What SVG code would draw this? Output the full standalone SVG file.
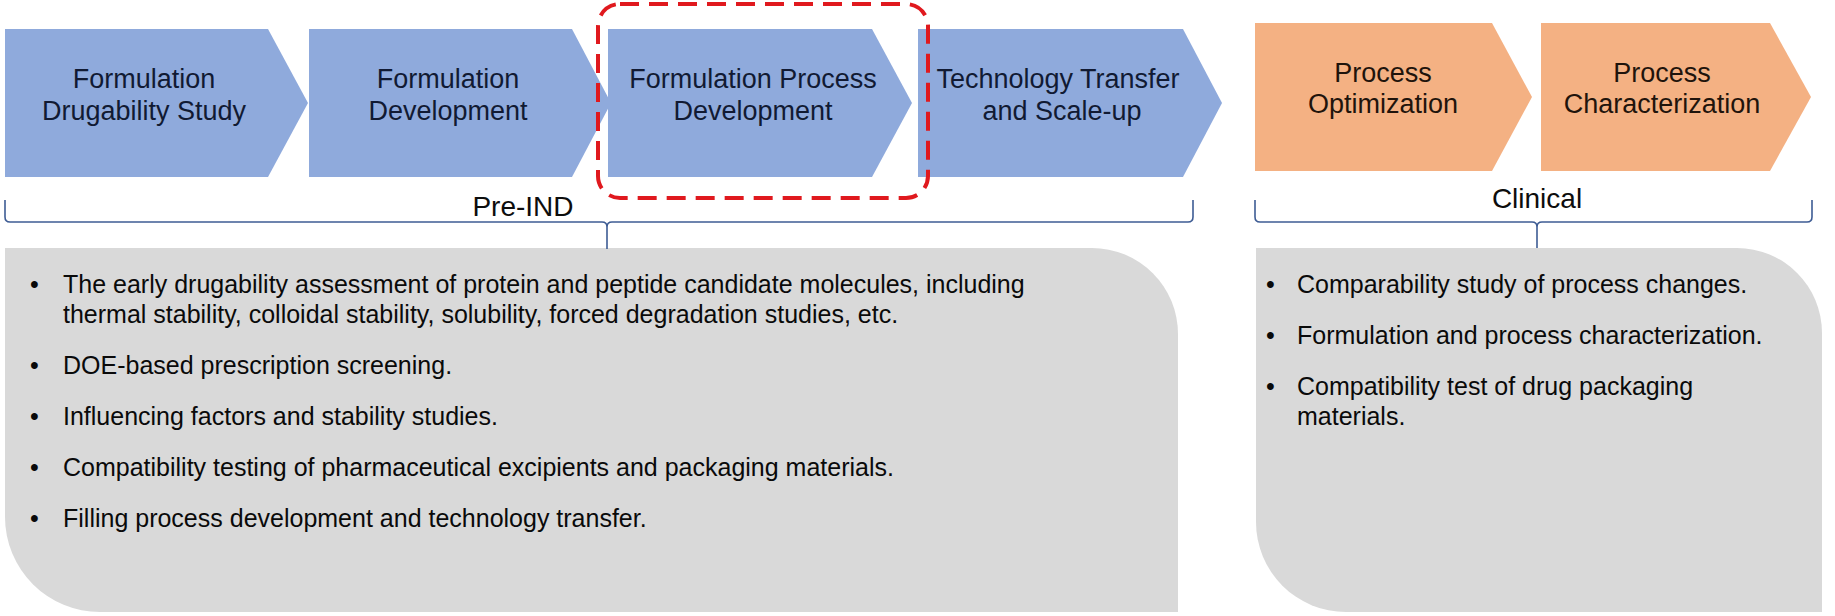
<svg xmlns="http://www.w3.org/2000/svg" width="1835" height="616" viewBox="0 0 1835 616">
  <style>
    .blue { fill: #8FAADC; }
    .orange { fill: #F4B183; }
    .panel { fill: #D9D9D9; }
    .lbl { font-family: "Liberation Sans", Arial, sans-serif; font-size: 27px; text-anchor: middle; }
    .lblb { fill: #111a33; }
    .lblo { fill: #1f140c; }
    .phase { font-family: "Liberation Sans", Arial, sans-serif; font-size: 28px; text-anchor: middle; fill: #0d0d0d; }
    .bul { font-family: "Liberation Sans", Arial, sans-serif; font-size: 25px; fill: #0a0a0a; }
    .brace { fill: none; stroke: #3E5C94; stroke-width: 1.6; }
    .hl { fill: none; stroke: #E0191E; stroke-width: 4; stroke-dasharray: 19 10; }
  </style>
  <rect width="1835" height="616" fill="#FFFFFF"/>

  <g id="panel-preind">
    <path class="panel" d="M5,248 H1092 A86,86 0 0 1 1178,334 V612 H100 A95,95 0 0 1 5,517 Z"/>
    <text class="bul" x="30" y="293">•</text>
    <text class="bul" x="63" y="293">The early drugability assessment of protein and peptide candidate molecules, including</text>
    <text class="bul" x="63" y="323">thermal stability, colloidal stability, solubility, forced degradation studies, etc.</text>
    <text class="bul" x="30" y="374">•</text>
    <text class="bul" x="63" y="374">DOE-based prescription screening.</text>
    <text class="bul" x="30" y="425">•</text>
    <text class="bul" x="63" y="425">Influencing factors and stability studies.</text>
    <text class="bul" x="30" y="476">•</text>
    <text class="bul" x="63" y="476">Compatibility testing of pharmaceutical excipients and packaging materials.</text>
    <text class="bul" x="30" y="527">•</text>
    <text class="bul" x="63" y="527">Filling process development and technology transfer.</text>
  </g>

  <g id="panel-clinical">
    <path class="panel" d="M1256,248 H1737 A85,85 0 0 1 1822,333 V612 H1346 A90,90 0 0 1 1256,522 Z"/>
    <text class="bul" x="1266" y="293">•</text>
    <text class="bul" x="1297" y="293">Comparability study of process changes.</text>
    <text class="bul" x="1266" y="344">•</text>
    <text class="bul" x="1297" y="344">Formulation and process characterization.</text>
    <text class="bul" x="1266" y="395">•</text>
    <text class="bul" x="1297" y="395">Compatibility test of drug packaging</text>
    <text class="bul" x="1297" y="425">materials.</text>
  </g>

  <g id="step1">
    <polygon class="blue" points="5,29 268,29 308,103 268,177 5,177"/>
    <text class="lbl lblb" x="144" y="88">Formulation</text>
    <text class="lbl lblb" x="144" y="120">Drugability Study</text>
  </g>
  <g id="step2">
    <polygon class="blue" points="309,29 572,29 611,103 572,177 309,177"/>
    <text class="lbl lblb" x="448" y="88">Formulation</text>
    <text class="lbl lblb" x="448" y="120">Development</text>
  </g>
  <g id="step3">
    <polygon class="blue" points="608,29 872,29 912,103 872,177 608,177"/>
    <text class="lbl lblb" x="753" y="88">Formulation Process</text>
    <text class="lbl lblb" x="753" y="120">Development</text>
  </g>
  <g id="step4">
    <polygon class="blue" points="918,29 1183,29 1222,103 1183,177 918,177"/>
    <text class="lbl lblb" x="1058" y="88">Technology Transfer</text>
    <text class="lbl lblb" x="1062" y="120">and Scale-up</text>
  </g>
  <g id="step5">
    <polygon class="orange" points="1255,23 1492,23 1532,97 1492,171 1255,171"/>
    <text class="lbl lblo" x="1383" y="82">Process</text>
    <text class="lbl lblo" x="1383" y="113">Optimization</text>
  </g>
  <g id="step6">
    <polygon class="orange" points="1541,23 1770,23 1811,97 1770,171 1541,171"/>
    <text class="lbl lblo" x="1662" y="82">Process</text>
    <text class="lbl lblo" x="1662" y="113">Characterization</text>
  </g>

  <g id="highlight">
    <rect class="hl" x="598" y="4" width="330" height="194" rx="22" ry="22"/>
  </g>

  <g id="connectors">
    <path class="brace" d="M5,200 V217 Q5,222 10,222 H602 Q607,222 607,227 V249 M607,227 Q607,222 612,222 H1188 Q1193,222 1193,217 V200"/>
    <path class="brace" d="M1255,200 V217 Q1255,222 1260,222 H1532 Q1537,222 1537,227 V248 M1537,227 Q1537,222 1542,222 H1807 Q1812,222 1812,217 V200"/>
  </g>

  <g id="label-preind">
    <text class="phase" x="523" y="216">Pre-IND</text>
  </g>
  <g id="label-clinical">
    <text class="phase" x="1537" y="208">Clinical</text>
  </g>
</svg>
